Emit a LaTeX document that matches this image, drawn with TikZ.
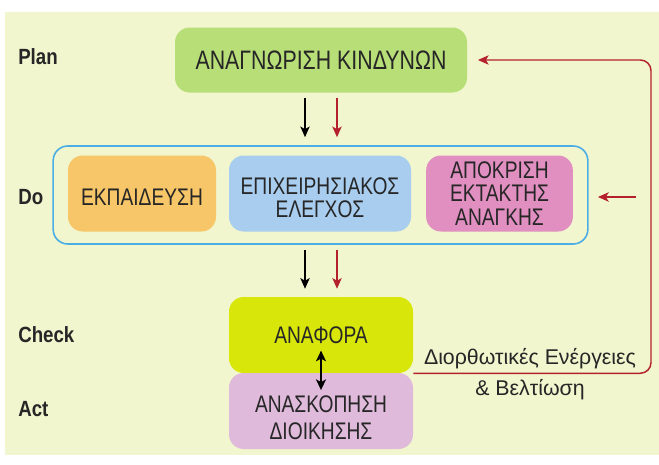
\documentclass[tikz,border=0pt]{standalone}
\usepackage{fontspec}
\setmainfont{Liberation Sans}
\newfontfamily\boxfont[FakeStretch=0.8]{Liberation Sans}
\newfontfamily\phasefont[FakeStretch=0.85]{Liberation Sans}
\usetikzlibrary{arrows.meta}
\definecolor{bgcol}{HTML}{F1F6CE}
\definecolor{plancol}{HTML}{B8DE78}
\definecolor{traincol}{HTML}{F6C668}
\definecolor{ctrlcol}{HTML}{A9CDEF}
\definecolor{emercol}{HTML}{E08FC0}
\definecolor{reportcol}{HTML}{D8E60A}
\definecolor{reviewcol}{HTML}{DFBADB}
\definecolor{doframe}{HTML}{4BAEE4}
\definecolor{fbred}{HTML}{B5202E}
\tikzset{
  stage/.style={rounded corners=11pt, inner sep=0pt},
  boxtext/.style={inner sep=0pt, align=center,
    font=\boxfont\fontsize{18}{17.5}\selectfont, text=black!85},
  phase/.style={anchor=west, inner sep=0pt, font=\phasefont\bfseries\fontsize{16.5}{18}\selectfont, text=black!85},
  blkarrow/.style={line width=1.1pt, -{Stealth[length=8pt,width=7pt,inset=2pt]}},
  redarrow/.style={line width=1.1pt, draw=fbred, -{Stealth[length=8pt,width=7pt,inset=2pt]}},
}
\begin{document}
\begin{tikzpicture}[x=0.75pt, y=-0.75pt]
      \def\bh{57pt}; % height of a stage box
      \def\ox{12pt}; % offset of the down arrows
      %
      \useasboundingbox (0,0) rectangle (659,464);
      \fill[bgcol] (5,12) rectangle (659,455);   % background
      %
      \node[phase] (plan)  at (18,57)  {Plan};
      \node[phase] (do)    at (18,197) {Do};
      \node[phase] (check) at (18,335) {Check};
      \node[phase] (act)   at (18,409) {Act};
      %%
      \node[stage, fill=plancol, minimum width=219pt, minimum height=48.75pt,
        label={[boxtext, font=\boxfont\fontsize{20}{22}\selectfont]center:ΑΝΑΓΝΩΡΙΣΗ ΚΙΝΔΥΝΩΝ}] (hazard) at (321,60) {};
      \node[draw=doframe, line width=1.2pt, rounded corners=11pt, minimum width=401pt,
        minimum height=73.5pt] (dobox) at (320.5,195) {};
      \node[stage, fill=traincol, minimum width=111pt, minimum height=\bh,
        label={[boxtext, yshift=-3pt]center:ΕΚΠΑΙΔΕΥΣΗ}] (training) at (142,193.5) {};
      \node[stage, fill=ctrlcol, minimum width=136.5pt, minimum height=\bh,
        label={[boxtext, yshift=-3pt]center:ΕΠΙΧΕΙΡΗΣΙΑΚΟΣ\\ΕΛΕΓΧΟΣ}] (control) at (320,193.5) {};
      \node[stage, fill=emercol, minimum width=110pt, minimum height=\bh,
        label={[boxtext]center:ΑΠΟΚΡΙΣΗ\\ΕΚΤΑΚΤΗΣ\\ΑΝΑΓΚΗΣ}] (emergency) at (499.5,193.5) {};
      \node[stage, fill=reportcol, minimum width=138pt, minimum height=\bh,
        label={[boxtext]center:ΑΝΑΦΟΡΑ}] (report) at (321,335) {};
      \node[stage, fill=reviewcol, minimum width=138pt, minimum height=\bh,
        label={[boxtext, yshift=-5pt, font=\boxfont\fontsize{18}{20}\selectfont]center:ΑΝΑΣΚΟΠΗΣΗ\\ΔΙΟΙΚΗΣΗΣ}] (review) at (321,411) {};
      %
      \draw[blkarrow, shorten <=4pt, shorten >=6pt] ([xshift=-\ox]hazard.south)
        -- ([xshift=-\ox]hazard.south |- dobox.north);   % plan to do
      \draw[redarrow, shorten <=4pt, shorten >=6pt] ([xshift=\ox]hazard.south)
        -- ([xshift=\ox]hazard.south |- dobox.north);
      \draw[blkarrow, shorten <=4pt, shorten >=6pt] ([xshift=-\ox]report.north |- dobox.south)
        -- ([xshift=-\ox]report.north);   % do to check
      \draw[redarrow, shorten <=4pt, shorten >=6pt] ([xshift=\ox]report.north |- dobox.south)
        -- ([xshift=\ox]report.north);
      \draw[line width=1.1pt, {Stealth[length=8pt,width=7.5pt,inset=2pt]}-{Stealth[length=8pt,width=7.5pt,inset=2pt]}]
        ([yshift=17pt]report.south) -- ([yshift=-13pt]review.north);   % check and act
      %%
      \coordinate (loopR) at (651,0);
      \coordinate (fbin) at (636,197);
      \draw[redarrow, rounded corners=8pt, shorten >=8pt] (report.south east)
        -| (loopR |- hazard.east) -- (hazard.east);   % feedback loop
      \draw[redarrow, shorten >=7pt] (fbin) -- (dobox.east |- fbin);
      \node[align=center, font=\fontsize{16}{23.25}\selectfont, text=black!85] (fbtext) at (530,374)
        {Διορθωτικές Ενέργειες\\\& Βελτίωση};
\end{tikzpicture}
\end{document}
